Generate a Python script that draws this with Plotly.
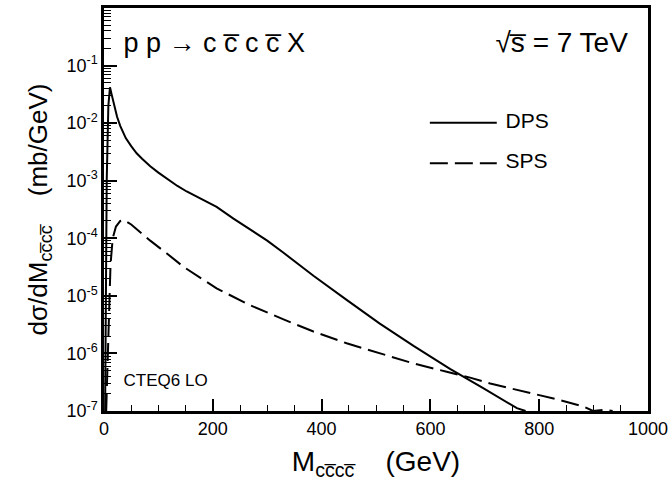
import plotly.graph_objects as go

# Invariant mass of the four-charm system (GeV) and dσ/dM (mb/GeV)
dps_mass = [2, 5, 8, 11, 14, 18, 24, 30, 40, 50, 60, 70, 85, 100, 115, 135, 152, 180,
            207, 238, 270, 300, 330, 385, 446, 507, 569, 636, 697, 759, 775]
dps_xsec = [1e-7, 1e-3, 0.02, 0.042, 0.0316, 0.021, 0.0129, 0.0089, 0.0055, 0.0040,
            0.0030, 0.0024, 0.00178, 0.00138, 0.0011, 0.00081, 0.00065, 0.00047,
            0.00035, 0.00022, 0.000141, 0.000091, 0.000056, 2.24e-5, 8.5e-6, 3.3e-6,
            1.35e-6, 5.4e-7, 2.5e-7, 1.12e-7, 1e-7]

sps_mass = [4, 8, 12, 16, 22, 30, 36, 50, 66, 85, 115, 146, 207, 268, 330, 385, 446,
            507, 569, 630, 673, 710, 746, 783, 832, 881, 899, 920, 935]
sps_xsec = [1e-7, 3e-6, 3.5e-5, 1e-4, 1.6e-4, 2.0e-4, 2.1e-4, 1.74e-4, 1.3e-4, 9.1e-5,
            5.5e-5, 3.2e-5, 1.35e-5, 6.9e-6, 3.9e-6, 2.4e-6, 1.5e-6, 1.0e-6, 6.7e-7,
            4.8e-7, 3.8e-7, 3.0e-7, 2.5e-7, 2.1e-7, 1.6e-7, 1.2e-7, 1.0e-7, 1.05e-7, 1e-7]

X_RANGE = [0, 1000]
Y_DECADES = [-7, 0]
x_ticks = [0, 200, 400, 600, 800, 1000]
x_minor = [m for m in range(0, 1001, 50) if m % 200]
y_ticks = [1e-7, 1e-6, 1e-5, 1e-4, 1e-3, 1e-2, 1e-1, 1]
y_ticktext = ["10<sup>-7</sup>", "10<sup>-6</sup>", "10<sup>-5</sup>", "10<sup>-4</sup>",
              "10<sup>-3</sup>", "10<sup>-2</sup>", "10<sup>-1</sup>", "1"]
y_minor = [k * 10.0 ** e for e in range(-7, 0) for k in range(2, 10)]

# In-plot labels: text, position (GeV, mb/GeV), alignment, font size
label_text = ["p p \u2192 c c\u0305 c c\u0305 X", "\u221as\u0305 = 7 TeV", "CTEQ6 LO",
              "DPS", "SPS"]
label_x = [36, 963, 36, 738, 738]
label_y = [0.227, 0.227, 3.2e-7, 0.0100, 0.00203]
label_pos = ["middle right", "middle left", "middle right", "middle right",
             "middle right"]
label_size = [27, 28, 17, 21, 21]

FONT = "Liberation Sans, Arial, sans-serif"
INK = "black"
SPS_DASH = "18px,7px"

fig = go.Figure()
fig.add_trace(go.Scatter(x=dps_mass, y=dps_xsec, mode="lines", name="DPS",
                         line=dict(color="black", width=2)))
fig.add_trace(go.Scatter(x=sps_mass, y=sps_xsec, mode="lines", name="SPS",
                         line=dict(color="black", width=2, dash=SPS_DASH)))
fig.add_trace(go.Scatter(x=label_x, y=label_y, text=label_text, mode="text",
                         textposition=label_pos, hoverinfo="skip",
                         textfont=dict(family=FONT, size=label_size, color="black")))

axis_common = dict(showline=True, linecolor=INK, linewidth=2.5, mirror=True,
                   ticks="inside", tickcolor=INK, tickwidth=1.5,
                   showgrid=False, zeroline=False,
                   tickfont=dict(family=FONT, size=18, color="black"))
fig.update_xaxes(range=X_RANGE, tickmode="array", tickvals=x_ticks, ticklen=12,
                 minor=dict(ticks="inside", ticklen=6, tickmode="array",
                            tickvals=x_minor, tickcolor=INK, tickwidth=1.2),
                 title=dict(text="M<sub>cc\u0305cc\u0305</sub>    (GeV)", standoff=14,
                            font=dict(family=FONT, size=28, color="black")),
                 **axis_common)
fig.update_yaxes(type="log", range=Y_DECADES, tickmode="array", tickvals=y_ticks,
                 ticktext=y_ticktext, ticklen=13,
                 minor=dict(ticks="inside", ticklen=7, tickmode="array",
                            tickvals=y_minor, tickcolor=INK, tickwidth=1.2),
                 title=dict(text="d\u03c3/dM<sub>cc\u0305cc\u0305</sub>    (mb/GeV)",
                            standoff=12,
                            font=dict(family=FONT, size=26, color="black")),
                 **axis_common)

# Legend line samples
legend_x0, legend_x1 = 0.599, 0.722
shapes = [
    dict(type="line", xref="paper", yref="paper", x0=legend_x0, x1=legend_x1,
         y0=0.715, y1=0.715, line=dict(color="black", width=2)),
    dict(type="line", xref="paper", yref="paper", x0=legend_x0, x1=legend_x1,
         y0=0.615, y1=0.615, line=dict(color="black", width=2, dash=SPS_DASH)),
]

fig.update_layout(width=671, height=495,
                  margin=dict(l=104, r=23, t=8, b=84, autoexpand=False),
                  paper_bgcolor="white", plot_bgcolor="white",
                  shapes=shapes, showlegend=False)

fig.write_html("out.html")
